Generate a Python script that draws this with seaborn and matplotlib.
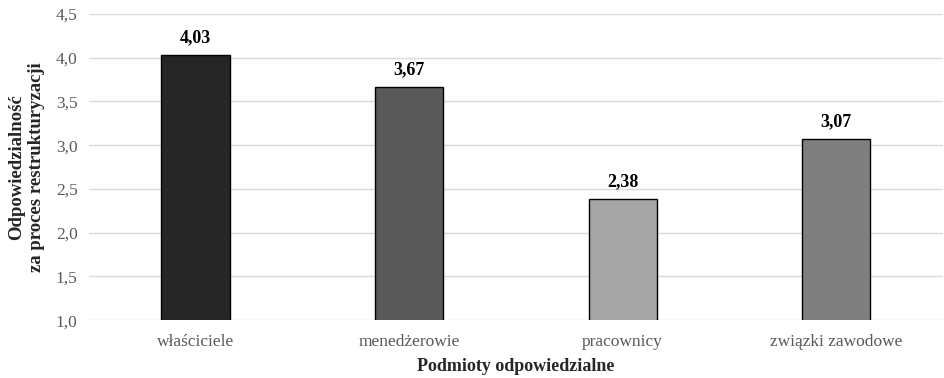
import matplotlib
matplotlib.use("Agg")
import matplotlib.pyplot as plt
import seaborn as sns
import pandas as pd

categories = ["właściciele", "menedżerowie", "pracownicy", "związki zawodowe"]
values = [4.03, 3.67, 2.38, 3.07]
colors = ["#262626", "#595959", "#a6a6a6", "#7f7f7f"]
yticks = [1.0, 1.5, 2.0, 2.5, 3.0, 3.5, 4.0, 4.5]

sns.set_theme(style="white")
plt.rcParams["font.family"] = ["Liberation Serif", "DejaVu Serif"]

df = pd.DataFrame({"cat": categories, "val": values})

fig = plt.figure(figsize=(9.44, 3.78), dpi=100)
ax = fig.add_axes([0.094, 0.153, 0.905, 0.810])

sns.barplot(data=df, x="cat", y="val", hue="cat", palette=colors, legend=False,
            width=0.32, edgecolor="black", linewidth=1.0, ax=ax, zorder=3)

ax.set_ylim(1.0, 4.5)
ax.set_yticks(yticks)
ax.set_yticklabels([f"{t:.1f}".replace(".", ",") for t in yticks], color="#595959", fontsize=12.5)
for lab in ax.get_xticklabels():
    lab.set_color("#595959")
    lab.set_fontsize(12.5)
ax.tick_params(axis="x", length=0, pad=10)
ax.tick_params(axis="y", length=0, pad=8)
ax.yaxis.grid(True, color="#d9d9d9", linewidth=1.0, zorder=0)
for s in ax.spines.values():
    s.set_visible(False)

for p, v in zip(ax.patches, values):
    ax.text(p.get_x() + p.get_width() / 2, v + 0.1, f"{v:.2f}".replace(".", ","),
            ha="center", va="bottom", fontsize=13, fontweight="bold", color="black")

ax.set_xlabel("Podmioty odpowiedzialne", fontsize=13, fontweight="bold", labelpad=6)
ax.set_ylabel("Odpowiedzialność\nza proces restrukturyzacji", fontsize=13.5,
              fontweight="bold", labelpad=8)

fig.savefig("out.png", dpi=100)
